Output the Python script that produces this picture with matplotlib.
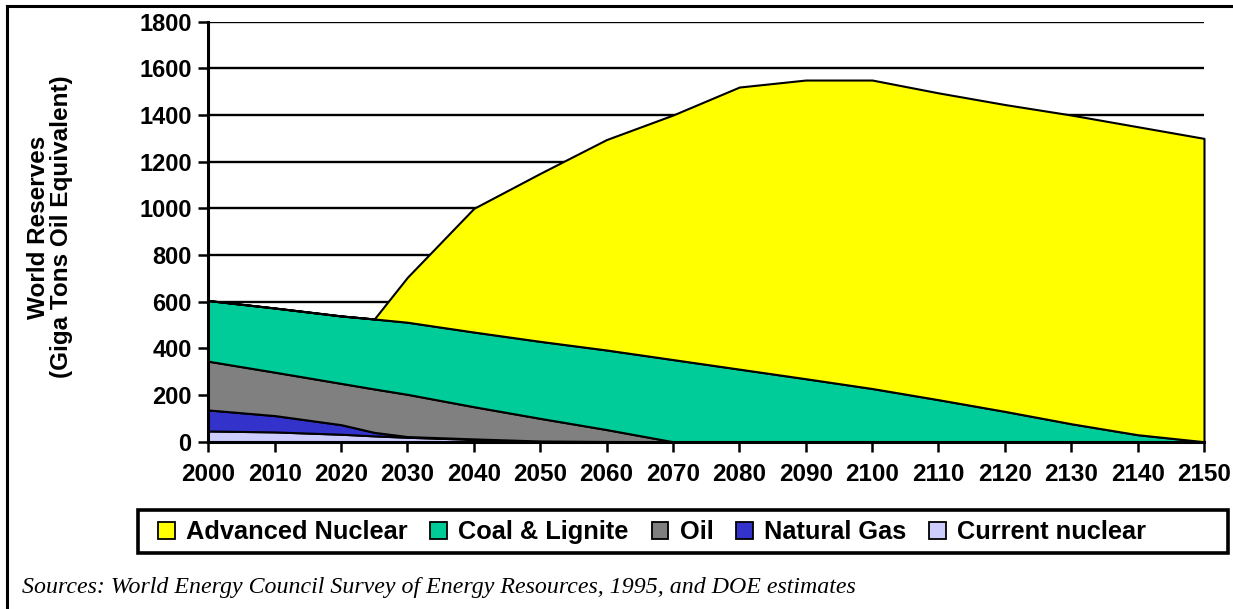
import matplotlib
matplotlib.use("Agg")
import matplotlib.pyplot as plt
from matplotlib.patches import Patch, Rectangle
from matplotlib.lines import Line2D

# Data (Giga tons oil equivalent)
anos = [2000, 2010, 2020, 2025, 2030, 2040, 2050, 2060, 2070, 2080,
        2090, 2100, 2110, 2120, 2130, 2140, 2150]
current_nuclear = [46, 42, 32, 25, 19, 10, 3, 1, 0, 0, 0, 0, 0, 0, 0, 0, 0]
natural_gas = [90, 70, 41, 15, 3, 2, 0, 0, 0, 0, 0, 0, 0, 0, 0, 0, 0]
oil = [209, 186, 177, 186, 181, 138, 97, 51, 0, 0, 0, 0, 0, 0, 0, 0, 0]
coal_lignite = [260, 275, 289, 300, 309, 320, 330, 341, 352, 311,
                270, 228, 180, 130, 77, 30, 0]
advanced_nuclear = [0, 0, 0, 0, 193, 530, 720, 902, 1048, 1209,
                    1280, 1322, 1315, 1315, 1323, 1320, 1300]

series = ["Current nuclear", "Natural Gas", "Oil", "Coal & Lignite", "Advanced Nuclear"]
cores = ["#CCCCFF", "#3333CC", "#808080", "#00CC99", "#FFFF00"]
x_ticks = list(range(2000, 2151, 10))
y_ticks = list(range(0, 1801, 200))

plt.rcParams['font.family'] = ['Liberation Sans', 'DejaVu Sans']

W, H = 1233, 609
fig = plt.figure(figsize=(W / 100, H / 100), dpi=100)
ax = fig.add_axes([208.3 / W, 1 - 441.7 / H, (1204 - 208.3) / W, (441.7 - 21.7) / H])

polys = ax.stackplot(anos, current_nuclear, natural_gas, oil, coal_lignite, advanced_nuclear,
                     colors=cores, edgecolor="black", linewidth=1.5)
for p in polys:
    p.set_clip_on(False)

ax.set_xlim(2000, 2150)
ax.set_ylim(0, 1800)
ax.set_xticks(x_ticks)
ax.set_yticks(y_ticks)
ax.set_axisbelow(True)
ax.yaxis.grid(True, color="black", linewidth=1.7)
ax.xaxis.grid(False)
for s in ["top", "right"]:
    ax.spines[s].set_visible(False)
for s in ["left", "bottom"]:
    ax.spines[s].set_linewidth(2.2)
    ax.spines[s].set_zorder(5)
ax.tick_params(axis="both", direction="out", length=7, width=1.8, color="black")
ax.tick_params(axis="x", pad=8, labelsize=17.5)
ax.tick_params(axis="y", pad=5, labelsize=17)
for lab in ax.get_xticklabels() + ax.get_yticklabels():
    lab.set_fontweight("bold")

# Rotulo do eixo y
fig.text(50 / W, 1 - 227 / H, "World Reserves\n(Giga Tons Oil Equivalent)",
         rotation=90, ha="center", va="center", multialignment="center",
         fontsize=17.5, fontweight="bold", linespacing=1.0)

# Legenda
ordem = [4, 3, 2, 1, 0]
handles = [Patch(facecolor=cores[i], edgecolor="black", linewidth=1.3) for i in ordem]
labels = [series[i] for i in ordem]
leg = fig.legend(handles, labels, ncol=5, loc="center left",
                 bbox_to_anchor=(158 / W, 1 - 532 / H), frameon=False,
                 prop={"weight": "bold", "size": 18.3}, handlelength=0.65,
                 handleheight=0.65, handletextpad=0.45, columnspacing=0.9,
                 borderpad=0, borderaxespad=0)
fig.add_artist(Rectangle((138 / W, 1 - 553 / H), (1228 - 138) / W, (553 - 510) / H,
                         transform=fig.transFigure, fill=False, edgecolor="black",
                         linewidth=2.6))

# Moldura externa
fig.add_artist(Line2D([7 / W, 1.0], [1 - 6 / H, 1 - 6 / H], transform=fig.transFigure,
                      color="black", linewidth=2.2))
fig.add_artist(Line2D([7 / W, 7 / W], [0, 1 - 6 / H], transform=fig.transFigure,
                      color="black", linewidth=2.2))

# Fonte dos dados
fig.text(22 / W, 1 - 587 / H,
         "Sources: World Energy Council Survey of Energy Resources, 1995, and DOE estimates",
         ha="left", va="center", fontsize=17.2, style="italic",
         family=["Liberation Serif", "DejaVu Serif"])

fig.savefig("out.png", dpi=100)
